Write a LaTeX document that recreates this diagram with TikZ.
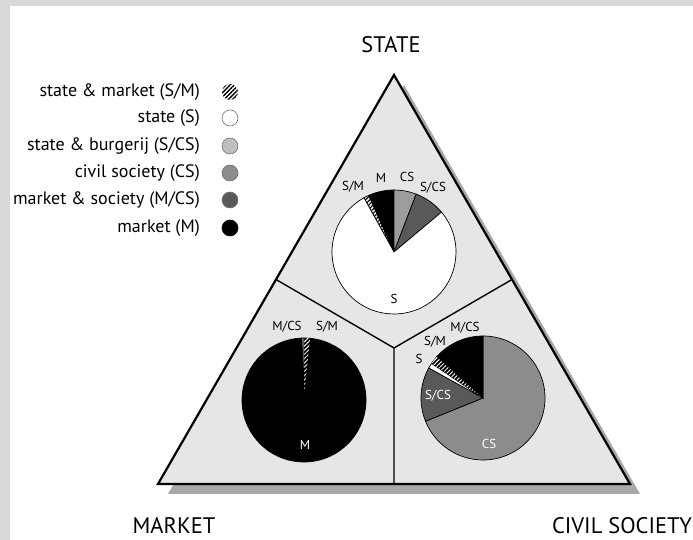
\documentclass[tikz,border=0pt]{standalone}
\usepackage{fontspec}
\setmainfont{PT Sans}
\usetikzlibrary{calc,patterns.meta}

\definecolor{framegray}{HTML}{D9D9D9}
\definecolor{trifill}{HTML}{E6E6E6}
\definecolor{shadowgray}{HTML}{A8A8A8}
\definecolor{lightslice}{HTML}{BFBFBF}
\definecolor{midslice}{HTML}{8C8C8C}
\definecolor{darkslice}{HTML}{595959}

\begin{document}
\begin{tikzpicture}[x=1pt, y=1pt,
		corner/.style={font=\fontsize{22.5}{26}\selectfont, inner sep=0pt},
		legtext/.style={font=\fontsize{18}{21}\selectfont, anchor=east, inner sep=0pt},
		legdot/.style={circle, draw=black!55, line width=0.6pt, minimum size=16pt, inner sep=0pt},
		plabel/.style={font=\fontsize{13}{15}\selectfont, inner sep=0pt},
		wlabel/.style={plabel, text=white},
		slice/.style={draw=black, line width=0.7pt},
		sS/.style={slice, fill=white},
		sM/.style={slice, fill=black},
		sSCS/.style={slice, fill=darkslice},
		sCS/.style={slice, fill=midslice},
		sCSl/.style={slice, fill=midslice!85!white},
		sMCS/.style={slice, fill=black!15},
		hatchb/.style={slice, fill=white, pattern={Lines[angle=45, distance=3pt, line width=1.1pt]}, pattern color=black},
		hatchw/.style={slice, fill=black, postaction={pattern={Lines[angle=45, distance=3pt, line width=1pt]}, pattern color=white}},
		divider/.style={draw=black, line width=1.4pt}]
		% frame
		\fill[framegray] (0,0) rectangle (693,540);
		\fill[white] (10,0) rectangle (693,534);
		\useasboundingbox (0,0) rectangle (693,540);
		
		% triangle and its shadow
		\coordinate (apex) at (394,465);
		\coordinate (mleft) at (158,56);
		\coordinate (cright) at (630,56);
		\fill[shadowgray] ([shift={(10,-10)}]apex) -- ([shift={(10,-10)}]mleft) -- ([shift={(10,-10)}]cright) -- cycle;
		\filldraw[fill=trifill, draw=black, line width=2.2pt, line join=miter] (apex) -- (mleft) -- (cright) -- cycle;
		\coordinate (g) at (394,192);
		\coordinate (ml) at ($(apex)!0.5!(mleft)$);
		\coordinate (mr) at ($(apex)!0.5!(cright)$);
		\coordinate (mb) at ($(mleft)!0.5!(cright)$);
		\path[divider] (g) -- (ml) (g) -- (mr) (g) -- (mb);
		
		% corner labels
		\node[corner] (state) at (391,495) {STATE};
		\node[corner] (market) at (174,14) {MARKET};
		\node[corner] (civil) at (622,14) {CIVIL SOCIETY};
		
		% state pie
		\coordinate (ps) at (394,288);
		\foreach \a/\b/\s in {119/114/hatchb, 114/90/sM, 90/69/sCSl, 69/40/sSCS, 40/-241/sS}
			\filldraw[\s] (ps) -- ++(\a:62) arc[start angle=\a, end angle=\b, radius=62] -- cycle;
		\node[plabel] (ps1) at (353,353) {S/M};
		\node[plabel] (ps2) at (381,362) {M};
		\node[plabel] (ps3) at (407,363) {CS};
		\node[plabel] (ps4) at (433,352) {S/CS};
		\node[plabel] (ps5) at (394,241) {S};
		
		% market pie
		\coordinate (pm) at (304,140);
		\foreach \a/\b/\s in {92/90/sMCS, 90/84/hatchw, 84/-268/sM}
			\filldraw[\s] (pm) -- ++(\a:62) arc[start angle=\a, end angle=\b, radius=62] -- cycle;
		\node[plabel] (pm1) at (287,213) {M/CS};
		\node[plabel] (pm2) at (327,213) {S/M};
		\node[wlabel] (pm3) at (305,95) {M};
		
		% civil society pie
		\coordinate (pc) at (483,142);
		\foreach \a/\b/\s in {90/-158/sCS, -158/-209/sSCS, -209/-214/sS, -214/-222/hatchw, -222/-270/sM}
			\filldraw[\s] (pc) -- ++(\a:62) arc[start angle=\a, end angle=\b, radius=62] -- cycle;
		\node[plabel] (pc1) at (465,212) {M/CS};
		\node[plabel] (pc2) at (435,198) {S/M};
		\node[plabel] (pc3) at (419,181) {S};
		\node[wlabel] (pc4) at (438,144) {S/CS};
		\node[wlabel] (pc5) at (489,96) {CS};
		
		% legend
		\node[legtext] (l1) at (200,448) {state \& market (S/M)};
		\node[legtext] (l2) at (200,422) {state (S)};
		\node[legtext] (l3) at (200,394) {state \& burgerij (S/CS)};
		\node[legtext] (l4) at (200,367) {civil society (CS)};
		\node[legtext] (l5) at (200,340) {market \& society (M/CS)};
		\node[legtext] (l6) at (200,312) {market (M)};
		\node[legdot, draw=none, pattern={Lines[angle=45, distance=3pt, line width=1.3pt]}, pattern color=black] (d1) at (230,448) {};
		\node[legdot, fill=white] (d2) at (230,422) {};
		\node[legdot, fill=lightslice] (d3) at (230,394) {};
		\node[legdot, fill=midslice] (d4) at (230,367) {};
		\node[legdot, fill=darkslice] (d5) at (230,340) {};
		\node[legdot, fill=black, draw=black] (d6) at (230,312) {};
	\end{tikzpicture}
\end{document}
